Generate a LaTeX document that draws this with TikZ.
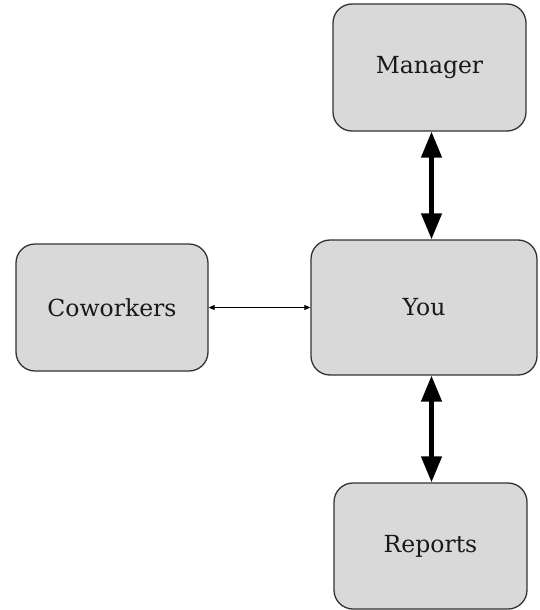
\documentclass[tikz,border=0pt]{standalone}
\usepackage{fontspec}
\setmainfont{DejaVu Serif}
\usetikzlibrary{arrows.meta}
\definecolor{boxgray}{HTML}{D9D9D9}
\definecolor{edgegray}{HTML}{333333}
\begin{document}
\begin{tikzpicture}[x=1pt,y=-1pt,
  box/.style={draw=edgegray, fill=boxgray, line width=1.3pt, rounded corners=19pt,
    font=\fontsize{23.5}{27}\selectfont, text=black!90, inner sep=0pt},
  bigarrow/.style={line width=4.5pt, {Triangle[length=26pt,width=20pt]}-{Triangle[length=26pt,width=20pt]}},
  smallarrow/.style={line width=0.9pt, {Triangle[length=6pt,width=5pt]}-{Triangle[length=6pt,width=5pt]}}]
\useasboundingbox (0,0) rectangle (539,610);
\node[box, minimum width=193pt, minimum height=127pt] (mgr) at (429.5,67.5) {Manager};
\node[box, minimum width=226pt, minimum height=135pt] (you) at (424,307.5) {You};
\node[box, minimum width=192pt, minimum height=127pt] (cow) at (112,307.5) {Coworkers};
\node[box, minimum width=193pt, minimum height=126pt] (rep) at (430.5,546) {Reports};
\draw[bigarrow] ([xshift=2pt]mgr.south) -- ([xshift=2pt]mgr.south |- you.north);
\draw[bigarrow] ([xshift=1pt]rep.north |- you.south) -- ([xshift=1pt]rep.north);
\draw[smallarrow] (cow.east) -- (you.west);
\end{tikzpicture}
\end{document}
